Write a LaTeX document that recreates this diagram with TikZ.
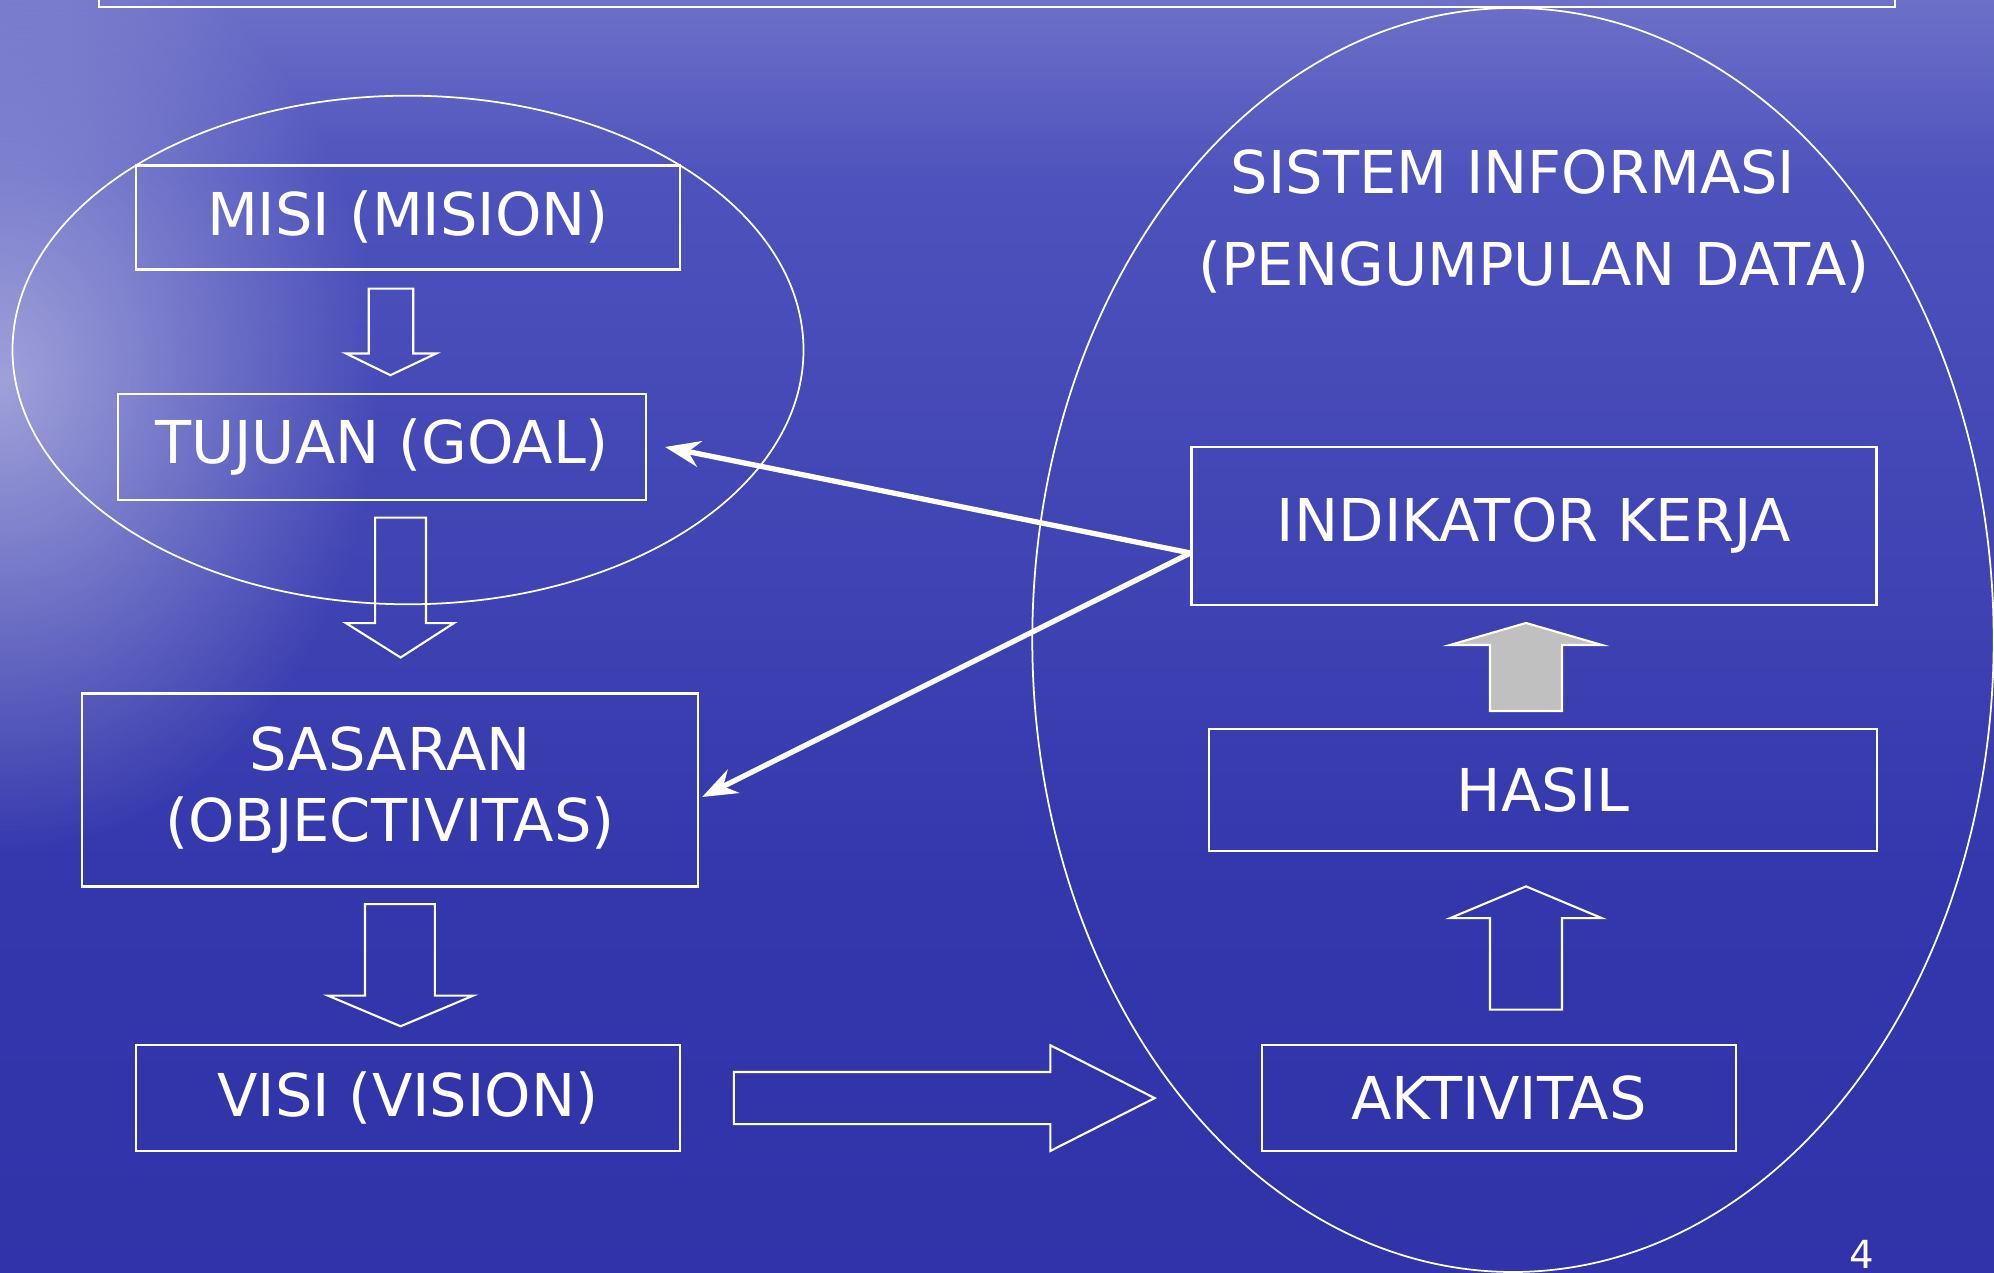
\documentclass[tikz,border=0pt]{standalone}
\usepackage{xcolor}
\usepackage{fontspec}
\newfontfamily\boxfont{DejaVu Sans}
\usepackage{tikz}
\usetikzlibrary{calc,arrows.meta,fadings}
\definecolor{skyTop}{RGB}{104,106,200}
\definecolor{skyBand}{RGB}{140,142,212}
\definecolor{seaHigh}{RGB}{78,82,188}
\definecolor{seaMid}{RGB}{52,55,172}
\definecolor{seaLow}{RGB}{42,45,163}
\definecolor{arrowGray}{RGB}{192,192,192}
\pgfdeclareverticalshading{seaSky}{100bp}{color(0bp)=(seaLow); color(40bp)=(seaMid); color(68bp)=(seaHigh); color(82bp)=(skyBand); color(92bp)=(skyTop); color(100bp)=(skyTop)}
\tikzfading[name=glowFade, inner color=transparent!20, outer color=transparent!100]
\tikzset{
  stageBox/.style={
    rectangle,
    draw=white,
    line width=0.6pt,
    text=white,
    font=\boxfont\fontsize{16.8}{20}\selectfont,
    align=center,
    inner sep=0pt
  },
  plainText/.style={
    text=white,
    font=\boxfont\fontsize{16.8}{20}\selectfont,
    inner sep=0pt
  },
  blockArrow/.style={
    draw=white,
    line width=0.6pt,
    line join=miter
  },
  linkArrow/.style={
    -{Stealth[length=3.5mm,width=2.6mm]},
    draw=white,
    line width=1.5pt
  },
  ovalLine/.style={
    draw=white,
    line width=0.5pt
  }
}

\begin{document}
\begin{tikzpicture}
        \useasboundingbox (0,0) rectangle (19.94,12.73);
        \clip (0,0) rectangle (19.94,12.73);
        % background
        \shade[shading=seaSky] (0,0) rectangle (19.94,12.73);
        \fill[white, opacity=0.6, path fading=glowFade] (-3.8,4.2) rectangle (3.8,13.6);

        % title frame and ovals
        \draw[blockArrow] (0.99,13.2) rectangle (18.95,12.66);
        \draw[ovalLine] (4.08,9.23) ellipse [x radius=3.955cm, y radius=2.543cm];
        \draw[ovalLine] (15.13,6.33) ellipse [x radius=4.807cm, y radius=6.32cm];

        % left column
        \node[stageBox, minimum width=5.44cm, minimum height=1.04cm] (misi) at (4.08,10.555) {MISI (MISION)};
        \node[stageBox, minimum width=5.28cm, minimum height=1.06cm] (tujuan) at (3.82,8.26) {TUJUAN (GOAL)};
        \node[stageBox, minimum width=6.16cm, minimum height=1.93cm] (sasaran) at (3.90,4.83) {SASARAN\\(OBJECTIVITAS)};
        \node[stageBox, minimum width=5.44cm, minimum height=1.06cm] (visi) at (4.08,1.75) {VISI (VISION)};

        % right column
        \node[plainText] (sisInfo) at (15.13,11.01) {SISTEM INFORMASI};
        \node[plainText] (sisData) at (15.34,10.06) {(PENGUMPULAN DATA)};
        \node[stageBox, minimum width=6.85cm, minimum height=1.58cm] (indikator) at (15.34,7.47) {INDIKATOR KERJA};
        \node[stageBox, minimum width=6.68cm, minimum height=1.22cm] (hasil) at (15.43,4.83) {HASIL};
        \node[stageBox, minimum width=4.74cm, minimum height=1.06cm] (aktivitas) at (14.99,1.75) {AKTIVITAS};

        % block arrows
        \draw[blockArrow] (3.688,9.843) -- (4.133,9.843) -- (4.133,9.195) -- (4.362,9.195) -- (3.904,8.978) -- (3.459,9.195) -- (3.688,9.195) -- cycle;
        \draw[blockArrow] (3.751,7.554) -- (4.260,7.554) -- (4.260,6.499) -- (4.540,6.499) -- (4.006,6.155) -- (3.459,6.499) -- (3.751,6.499) -- cycle;
        \draw[blockArrow] (3.650,3.688) -- (4.349,3.688) -- (4.349,2.773) -- (4.731,2.773) -- (4.006,2.467) -- (3.281,2.773) -- (3.650,2.773) -- cycle;
        \draw[blockArrow] (7.338,2.010) -- (10.504,2.010) -- (10.504,2.277) -- (11.547,1.749) -- (10.504,1.221) -- (10.504,1.488) -- (7.338,1.488) -- cycle;
        \draw[blockArrow, fill=arrowGray] (14.90,5.62) -- (15.62,5.62) -- (15.62,6.28) -- (16.02,6.28) -- (15.26,6.50) -- (14.50,6.28) -- (14.90,6.28) -- cycle;
        \draw[blockArrow] (14.90,2.633) -- (15.62,2.633) -- (15.62,3.548) -- (16.02,3.548) -- (15.26,3.866) -- (14.50,3.548) -- (14.90,3.548) -- cycle;

        % links from indikator
        \coordinate (indSrc) at ($(indikator.west)+(0,-0.27)$);
        \draw[linkArrow] (indSrc) -- ($(tujuan.east)+(0.18,0)$);
        \draw[linkArrow] (indSrc) -- ($(sasaran.east)+(0.03,-0.07)$);

        \node[text=white, font=\boxfont\fontsize{11}{13}\selectfont, anchor=base] (pageNum) at (18.62,0.04) {4};
    \end{tikzpicture}
\end{document}
